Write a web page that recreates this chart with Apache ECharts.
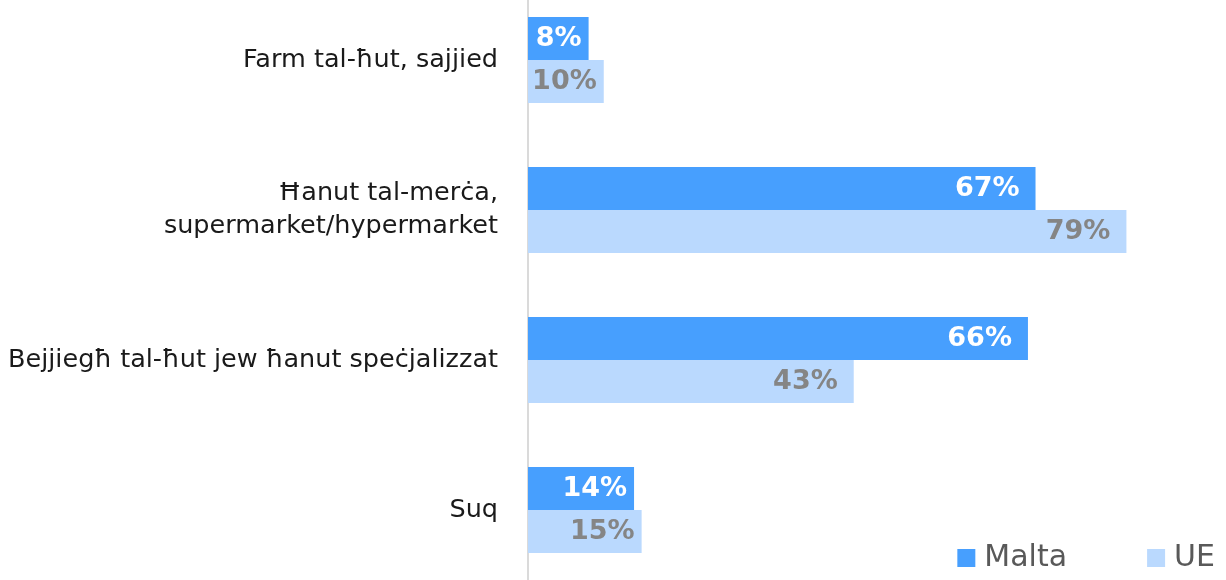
<!DOCTYPE html>
<html>
<head>
<meta charset="utf-8">
<script src="https://cdn.jsdelivr.net/npm/echarts@6/dist/echarts.min.js"></script>
<style>
  html, body { margin: 0; padding: 0; background: #fff; }
  #chart { width: 1226px; height: 580px; }
</style>
</head>
<body>
<div id="chart"></div>
<script>
const categories = [
    'Farm tal-ħut, sajjied',
    'Ħanut tal-merċa,\nsupermarket/hypermarket',
    'Bejjiegħ tal-ħut jew ħanut speċjalizzat',
    'Suq'
];
const maltaValues = [8, 67, 66, 14];
const ueValues = [10, 79, 43, 15];

const chart = echarts.init(document.getElementById('chart'));

// short bars keep their label closer to the bar end
const withLabels = (values) => values.map(v => ({
    value: v,
    label: { distance: v < 20 ? 7 : 16 }
}));

const labelBase = {
    show: true,
    position: 'insideRight',
    fontSize: 27,
    fontWeight: 'bold',
    fontFamily: 'DejaVu Sans',
    formatter: '{c}%'
};

const option = {
    animation: false,
    textStyle: { fontFamily: 'DejaVu Sans' },
    legend: {
        data: ['Malta', 'UE'],
        right: 6,
        bottom: 2,
        itemWidth: 18,
        itemHeight: 18,
        itemGap: 80,
        icon: 'rect',
        textStyle: {
            fontSize: 30,
            color: '#595959',
            fontFamily: 'DejaVu Sans',
            padding: [0, 0, 0, 4]
        }
    },
    grid: {
        left: 528,
        top: -15,
        width: 606,
        height: 600,
        outerBoundsMode: 'none'
    },
    xAxis: {
        type: 'value',
        min: 0,
        max: 80,
        show: false
    },
    yAxis: {
        type: 'category',
        data: categories,
        inverse: true,
        axisLine: { show: true, lineStyle: { color: '#dadada', width: 2 } },
        axisTick: { show: false },
        axisLabel: {
            fontSize: 25.5,
            color: '#1a1a1a',
            margin: 30,
            lineHeight: 33,
            fontFamily: 'DejaVu Sans'
        }
    },
    series: [
        {
            name: 'Malta',
            type: 'bar',
            data: withLabels(maltaValues),
            barWidth: 43,
            barGap: '0%',
            itemStyle: { color: '#479ffe' },
            label: Object.assign({}, labelBase, { color: '#ffffff' })
        },
        {
            name: 'UE',
            type: 'bar',
            data: withLabels(ueValues),
            barWidth: 43,
            barGap: '0%',
            itemStyle: { color: '#bad9fe' },
            label: Object.assign({}, labelBase, { color: '#858585' })
        }
    ]
};

chart.setOption(option);
window.addEventListener('resize', () => chart.resize());
</script>
</body>
</html>
